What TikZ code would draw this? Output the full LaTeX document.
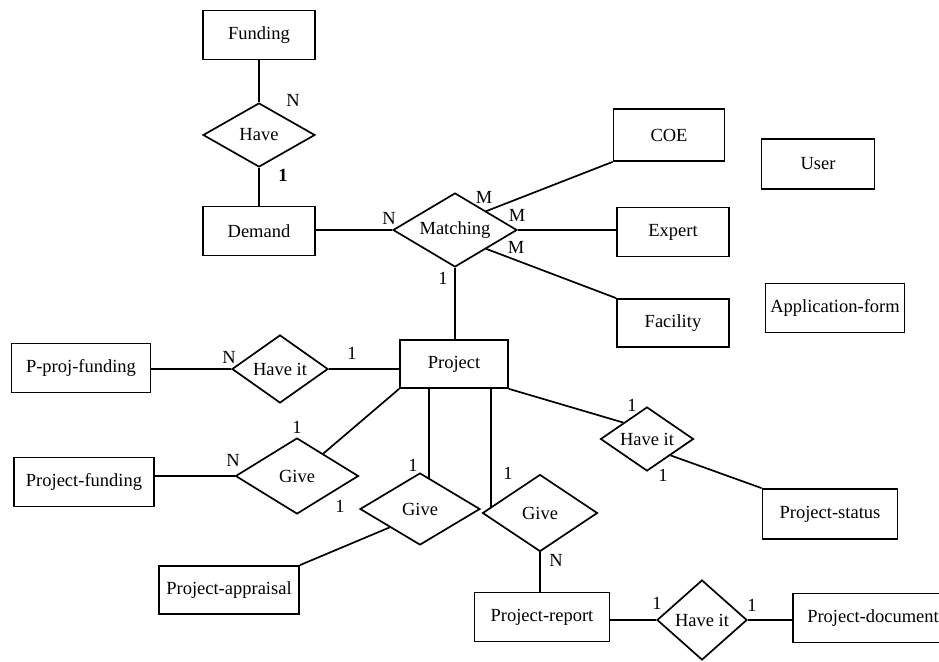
\documentclass[tikz,border=0pt]{standalone}
\usepackage{fontspec}
\setmainfont{Liberation Serif}
\usetikzlibrary{shapes.geometric,calc}
\begin{document}
\begin{tikzpicture}[x=1pt,y=-1pt,
  ent/.style={draw, rectangle, line width=1.7pt, minimum height=49pt, inner sep=0pt},
  rel/.style={draw, diamond, aspect=1.6, line width=1.7pt, inner sep=0pt},
  card/.style={inner sep=0pt},
  every node/.style={font=\fontsize{18.5}{20}\selectfont},
  line width=1.7pt]
\useasboundingbox (0,0) rectangle (939,661);
% entities
\node[ent, minimum width=112pt] (fund) at (259,35){Funding};
\node[ent, minimum width=112pt] (dem) at (259,231){Demand};
\node[ent, minimum width=111pt, minimum height=52pt] (coe) at (669,135){COE};
\node[ent, minimum width=112pt] (expert) at (673,232){Expert};
\node[ent, minimum width=112pt, minimum height=48pt] (fac) at (673,323){Facility};
\node[ent, minimum width=113pt, minimum height=50pt] (user) at (818,164){User};
\node[ent, minimum width=139pt] (appform) at (835,308){Application-form};
\node[ent, minimum width=108pt, minimum height=48pt] (proj) at (454,364){Project};
\node[ent, minimum width=139pt] (ppf) at (81,368){P-proj-funding};
\node[ent, minimum width=140pt] (pf) at (84,482){Project-funding};
\node[ent, minimum width=140pt, minimum height=48pt] (pa) at (229,590){Project-appraisal};
\node[ent, minimum width=135pt] (pr) at (542,617){Project-report};
\node[ent, minimum width=135pt, minimum height=50pt] (ps) at (830,514){Project-status};
\node[ent, minimum width=160pt] (pd) at (873,618){Project-document};
% relations
\node[rel, minimum width=112pt, minimum height=64pt] (have) at (259,135){Have};
\node[rel, minimum width=124pt, minimum height=74pt] (match) at (455,230){Matching};
\node[rel, minimum width=96pt, minimum height=68pt] (haveit1) at (280,369){Have it};
\node[rel, minimum width=123pt, minimum height=76pt] (give1) at (297,476){Give};
\node[rel, minimum width=120pt, minimum height=72pt] (give2) at (420,509){Give};
\node[rel, minimum width=115pt, minimum height=77pt] (give3) at (540,513){Give};
\node[rel, minimum width=93pt, minimum height=64pt] (haveit2) at (647,439){Have it};
\node[rel, minimum width=90pt, minimum height=80pt] (haveit3) at (702,620){Have it};
\coordinate (g2top) at ($(give2.north)!0.15!(give2.east)$);
\coordinate (g3top) at ($(give3.west)!0.165!(give3.north)$);
% connectors
\draw[](fund) -- (have);
\draw[](have) -- (dem);
\draw[](match.west) -- (match.west -| dem.east);
\draw[](match.north east) -- (coe.south west);
\draw[](match.east) -- (match.east -| expert.west);
\draw[](match.south east) -- (fac.north west);
\draw[](match) -- (match |- proj.north);
\draw[](haveit1.west) -- (haveit1.west -| ppf.east);
\draw[](haveit1.east) -- (haveit1.east -| proj.west);
\draw[](give1.west) -- (give1.west -| pf.east);
\draw[](give1) -- (proj.south west);
\draw[](g2top) -- (g2top |- proj.south);
\draw[](pa.north east) -- (give2.south west);
\draw[](g3top) -- (g3top |- proj.south);
\draw[](give3.south) -- (give3.south |- pr.north);
\draw[](haveit3.west) -- (haveit3.west -| pr.east);
\draw[](haveit3.east) -- (haveit3.east -| pd.west);
\draw[](proj.south east) -- (haveit2.north west);
\draw[](haveit2.south east) -- (ps.north west);
% cardinalities
\node[card] (c1) at (293,100){N};
\node[card] (c2) at (283,175){\textbf{1}};
\node[card] (c3) at (389,218){N};
\node[card] (c4) at (484,197){M};
\node[card] (c5) at (517,215){M};
\node[card] (c6) at (516,247){M};
\node[card] (c7) at (443,278){1};
\node[card] (c8) at (229,357){N};
\node[card] (c9) at (352,353){1};
\node[card] (c10) at (297,427){1};
\node[card] (c11) at (233,460){N};
\node[card] (c12) at (340,506){1};
\node[card] (c13) at (413,465){1};
\node[card] (c14) at (508,473){1};
\node[card] (c15) at (556,560){N};
\node[card] (c16) at (632,405){1};
\node[card] (c17) at (663,475){1};
\node[card] (c18) at (657,603){1};
\node[card] (c19) at (752,605){1};
\end{tikzpicture}
\end{document}
